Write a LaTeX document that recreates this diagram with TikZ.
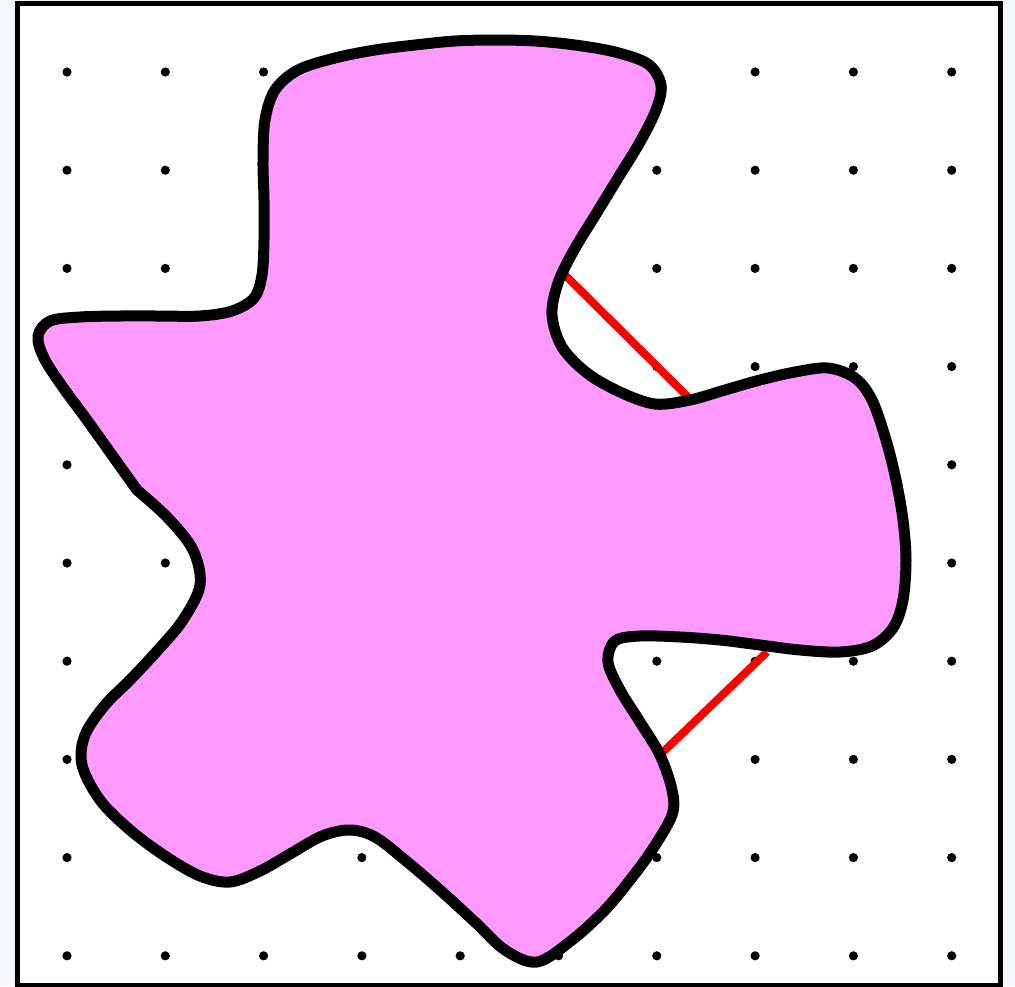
\documentclass[tikz,border=0pt]{standalone}
\usetikzlibrary{calc}
\definecolor{bggray}{RGB}{245,247,250}
\definecolor{blobpink}{RGB}{255,153,255}
\definecolor{segred}{RGB}{255,0,0}
\tikzset{
  frame/.style={draw=black, line width=5pt, fill=white},
  griddot/.style={fill=black},
  blobfill/.style={fill=blobpink},
  blobline/.style={draw=black, line width=11pt, line join=round},
  redseg/.style={draw=segred, line width=8pt},
}
\begin{document}
\begin{tikzpicture}[x=1pt,y=-1pt]
\fill[bggray] (0,0) rectangle (1015,986);
\useasboundingbox (0,0) rectangle (1015,986);
\draw[frame] (17.5,3) rectangle (1000.5,985.5);
\foreach \i in {0,...,9}{
  \foreach \j in {0,...,9}{
    \fill[griddot] ({67+98.3*\i},{72+98.2*\j}) circle (4.6);
  }
}
\def\blobpath{plot[smooth, tension=0.55] coordinates {
 (137,490) (112,455) (87,420) (62,386) (44,358)
 (38,336) (50,321) (80,317)
 (120,316) (160,316) (200,316) (232,311)
 (254,298) (262,275)
 (264,240) (264,200) (263,160) (265,120)
 (275,90) (298,70)
 (335,58) (375,50) (415,45) (455,41) (495,40) (535,41) (575,45) (615,52) (648,64)
 (661,85) (656,110)
 (640,142) (618,178) (596,214) (574,250) (558,283)
 (552,315) (562,347) (587,373) (620,392) (655,404)
 (690,400) (725,390) (760,380) (795,372) (828,368)
 (855,378) (872,400)
 (886,440) (896,480) (903,520) (906,560) (903,600) (893,628)
 (872,646) (840,652)
 (800,650) (760,645) (720,640) (680,637) (640,636)
 (615,641) (608,662)
 (620,690) (640,722) (660,755) (672,790) (672,815)
 (652,850) (630,880) (605,910) (572,940) (537,962)
 (505,950) (475,922) (440,890) (405,860) (375,837)
 (350,830) (322,836)
 (290,854) (260,871) (230,882)
 (200,876) (165,856) (130,830) (100,800) (82,765)
 (85,735) (105,705) (130,680) (158,650) (183,620) (200,585)
 (193,550) (168,518) (137,490)} -- cycle}
\fill[blobfill] \blobpath;
\coordinate (r1a) at (565,275);
\coordinate (r1b) at (688,397);
\coordinate (r2a) at (662,753);
\coordinate (r2b) at (767,652);
\draw[redseg] (r1a) -- (r1b);
\draw[redseg] (r2a) -- (r2b);
\draw[blobline] \blobpath;
\end{tikzpicture}
\end{document}
